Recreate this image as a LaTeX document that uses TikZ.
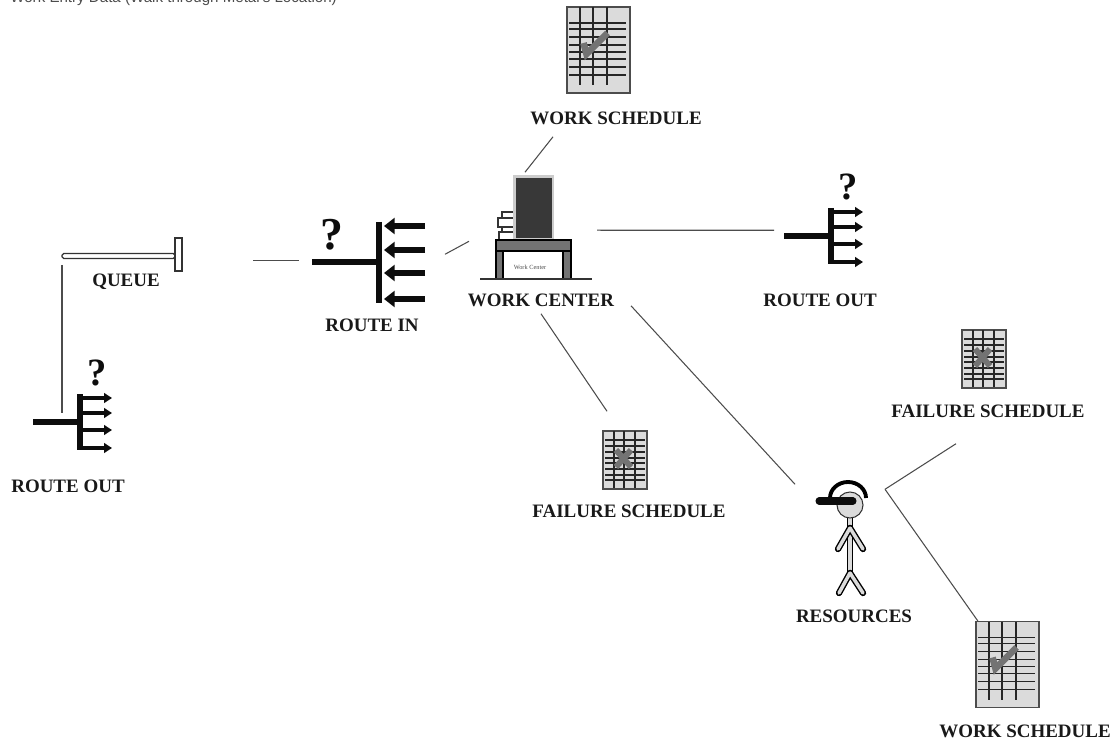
\documentclass[tikz,border=0pt]{standalone}
\usepackage{fontspec}
\setmainfont{Liberation Serif}
\setsansfont{Liberation Sans}
\usetikzlibrary{arrows.meta}
\definecolor{sheetgray}{gray}{0.86}
\definecolor{markgray}{gray}{0.45}
\definecolor{icondark}{gray}{0.05}
\tikzset{
	caption/.style={font=\fontsize{10.8}{12}\selectfont\bfseries, text=black!90, inner sep=0pt},
	link/.style={draw=black!70, line width=0.6pt},
	stem/.style={icondark, line width=3.2pt},
	rod/.style={line width=0.8pt, double=sheetgray, double distance=2pt, line cap=round},
	checksheet/.pic={
		\draw[draw=black!70, fill=sheetgray, line width=0.9pt] (-31.5,-43) rectangle (31.5,43);
		\foreach \gridx in {-18.5,-5.5,8.5} \draw[black!85, line width=1pt] (\gridx,-43) -- (\gridx,35);
		\foreach \gridy in {-27,-21,-13,-5,2,9,17,25} \draw[black!85, line width=1pt] (-29.5,\gridy) -- (27,\gridy);
		\draw[markgray, line width=3.8pt] (-15,-7) -- (-12,4) -- (9,-17);
	},
	failsheet/.pic={
		\draw[draw=black!70, fill=sheetgray, line width=0.9pt] (-22,-29) rectangle (22,29);
		\foreach \gridx in {-11,-1,10} \draw[black!85, line width=1pt] (\gridx,-29) -- (\gridx,28);
		\foreach \gridy in {-20,-14,-8,-2,3,9,15,20} \draw[black!85, line width=1pt] (-20,\gridy) -- (20,\gridy);
		\draw[markgray, line width=3.4pt] (-9,-10) -- (6,7) (-9,7) -- (6,-10);
	},
	routeoutpic/.pic={
		\draw[stem] (-47,0) -- (0,0);
		\draw[stem] (0,-28) -- (0,28);
		\foreach \arm in {-24,-9,8,26} \draw[icondark, line width=1.8pt, -{Triangle[length=4.5pt,width=5.5pt]}] (0,\arm) -- (32,\arm);
		\node[font=\fontsize{22}{22}\selectfont\bfseries, icondark] (-mark) at (17,-49) {?};
	},
}
\begin{document}
\begin{tikzpicture}[x=0.02cm,y=-0.02cm]
\useasboundingbox (0,0) rectangle (1118,746);
\node[font=\sffamily\fontsize{8.6}{10}\selectfont, text=black!70, anchor=base west, inner sep=0pt] (title) at (10,2.5) {Work Entry Data (Walk through Metal's Location)};

% queue
\draw[draw=black!80, fill=white, line width=0.7pt, rounded corners=1pt] (62,253.5) rectangle (175,258.5);
\draw[draw=black!80, fill=white, line width=0.8pt] (175,238) rectangle (182,271);
\node[caption] (queue) at (126,282) {QUEUE};

% route out, lower left
\pic (outa) at (80,422) {routeoutpic};
\node[caption] (routeouta) at (68,486) {ROUTE OUT};

% route in
\draw[stem] (312,262) -- (379,262);
\draw[stem] (379,222) -- (379,303);
\foreach \arm in {226,250,273,299} \draw[icondark, line width=3.6pt, -{Triangle[length=6pt,width=9pt]}] (425,\arm) -- (384,\arm);
\node[font=\fontsize{26}{26}\selectfont\bfseries, icondark] (routemark) at (332,235) {?};
\node[caption] (routein) at (372,325) {ROUTE IN};

% work center
\draw[black!80, line width=0.7pt, fill=white] (502,212) rectangle (514,218) (498,218) rectangle (514,227) (502,227) rectangle (514,232) (499,232) rectangle (514,240);
\fill[gray!40] (513,175) rectangle (554,241);
\fill[black!78] (516,178) rectangle (552,238);
\draw[black, line width=0.8pt, fill=markgray] (496,240) rectangle (571,251);
\draw[black, line width=0.8pt, fill=markgray] (496,251) rectangle (503,279) (563,251) rectangle (571,279);
\node[font=\fontsize{3.6}{4}\selectfont, text=black!70, inner sep=0pt] (wcsign) at (530,267) {Work Center};
\draw[black!80, line width=0.8pt] (480,279) -- (592,279);
\node[caption] (wc) at (541,300) {WORK CENTER};

% work schedule, top
\pic at (598.5,50) {checksheet};
\node[caption] (wstop) at (616,118) {WORK SCHEDULE};

% route out, right
\pic (outb) at (831,236) {routeoutpic};
\node[caption] (routeoutb) at (820,300) {ROUTE OUT};

% failure schedules
\pic at (625,460) {failsheet};
\node[caption] (fslow) at (629,511) {FAILURE SCHEDULE};
\pic at (984,359) {failsheet};
\node[caption] (fsup) at (988,411) {FAILURE SCHEDULE};

% resources
\draw[rod] (850,517) -- (850,572);
\draw[rod] (850,528) -- (838,549) (850,528) -- (863,549);
\draw[rod] (850,573) -- (839,593) (850,573) -- (863,593);
\draw[black!80, fill=sheetgray, line width=0.6pt] (850,505) circle (13);
\draw[black, line width=2.2pt] (830,498) arc (180:360:18 and 16);
\draw[icondark, line width=4pt, line cap=round] (819,501) -- (853,501);
\node[caption] (resources) at (854,616) {RESOURCES};

% work schedule, lower right
\pic at (1007.5,664.5) {checksheet};
\node[caption] (wslow) at (1025,731) {WORK SCHEDULE};

% links
\draw[link] ([shift={(-63,12)}]wstop.south) -- ([shift={(-16,-121)}]wc.north);
\draw[link] ([shift={(-64,-9)}]queue.north) -- ([shift={(-64,123)}]queue.south);
\draw[link] ([shift={(127,-13)}]queue.north) -- ([shift={(173,-13)}]queue.north);
\draw[link] ([shift={(73,-64)}]routein.north) -- ([shift={(97,-77)}]routein.north);
\draw[link] ([shift={(56,-63)}]wc.north) -- ([shift={(-46,-63)}]routeoutb.north);
\draw[link] ([shift={(0,7)}]wc.south) -- ([shift={(-22,-93)}]fslow.north);
\draw[link] ([shift={(90,-1)}]wc.south) -- ([shift={(-59,-125)}]resources.north);
\draw[link] ([shift={(31,-120)}]resources.north) -- ([shift={(-32,26)}]fsup.south);
\draw[link] ([shift={(31,-120)}]resources.north) -- ([shift={(-47,-103)}]wslow.north);
\end{tikzpicture}
\end{document}
